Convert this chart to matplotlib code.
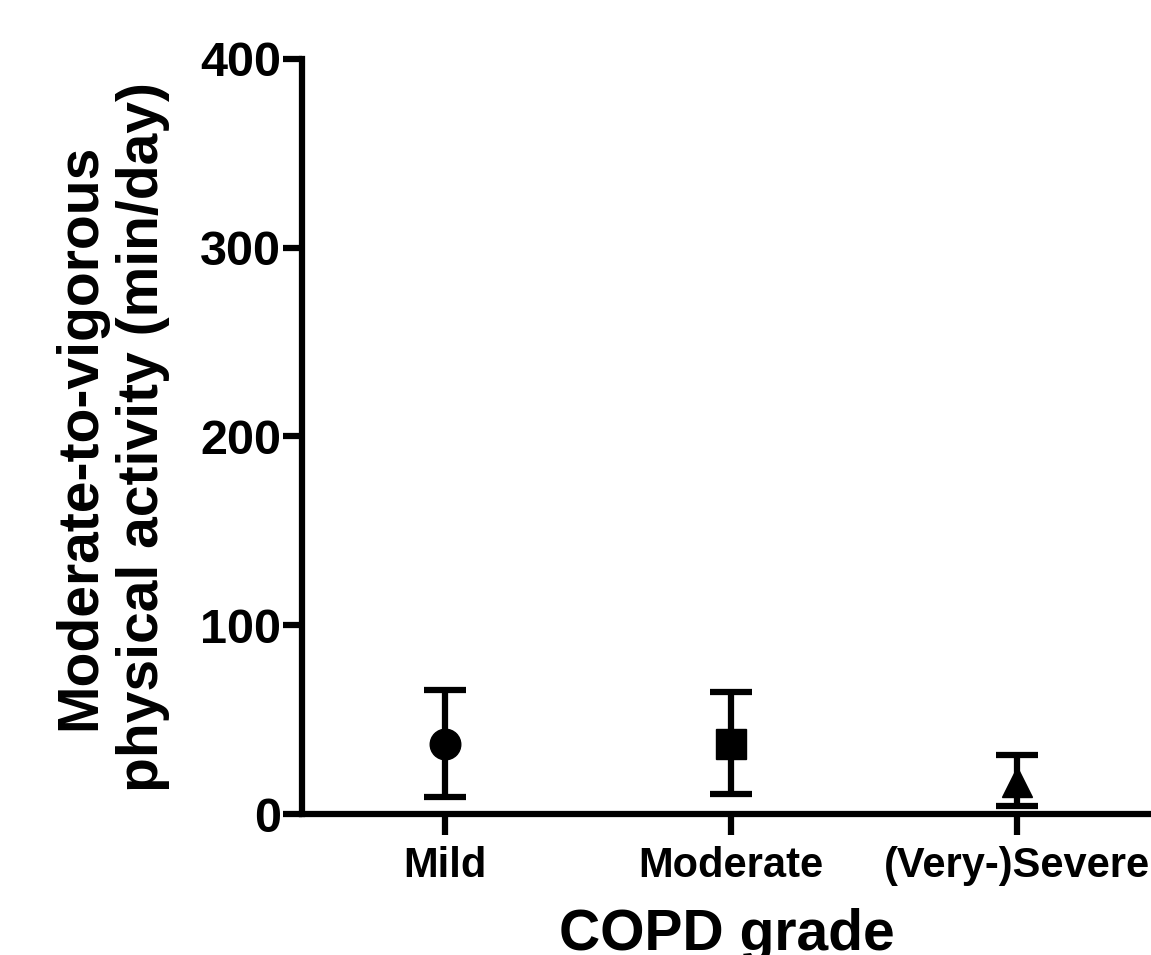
import matplotlib
matplotlib.use("Agg")
import matplotlib.pyplot as plt

# data
grades = ["Mild", "Moderate", "(Very-)Severe"]
means = [37, 37, 17]
err_low = [28, 26.5, 12.5]
err_high = [28.5, 27.5, 14]
markers = ["o", "s", "^"]

plt.rcParams['font.family'] = ['Liberation Sans', 'DejaVu Sans']
plt.rcParams['font.weight'] = 'bold'

fig = plt.figure(figsize=(11.51, 9.55), dpi=100)
ax = fig.add_axes([302 / 1151, 141 / 955, 849 / 1151, 755 / 955])

for i, g in enumerate(grades):
    ax.errorbar(i, means[i], yerr=[[err_low[i]], [err_high[i]]], fmt=markers[i],
                color="black", markersize=22, elinewidth=4.5, capsize=15,
                capthick=4.5, clip_on=False, zorder=3)

ax.set_xlim(-0.5, 2.47)
ax.set_ylim(0, 400)
ax.set_yticks([0, 100, 200, 300, 400])
ax.set_xticks(range(len(grades)))
ax.set_xticklabels(grades, fontsize=30, fontweight="bold")
ax.tick_params(axis="y", labelsize=35, length=14, width=4.5, pad=1)
ax.tick_params(axis="x", length=15, width=4.5, pad=8)
for lbl in ax.get_yticklabels():
    lbl.set_fontweight("bold")

for s in ["top", "right"]:
    ax.spines[s].set_visible(False)
for s in ["left", "bottom"]:
    ax.spines[s].set_linewidth(4.5)

ax.set_ylabel("Moderate-to-vigorous\nphysical activity (min/day)", fontsize=41,
              fontweight="bold", labelpad=22, linespacing=1.2)
ax.set_xlabel("COPD grade", fontsize=41, fontweight="bold", labelpad=16)

fig.savefig("out.png", dpi=100)
